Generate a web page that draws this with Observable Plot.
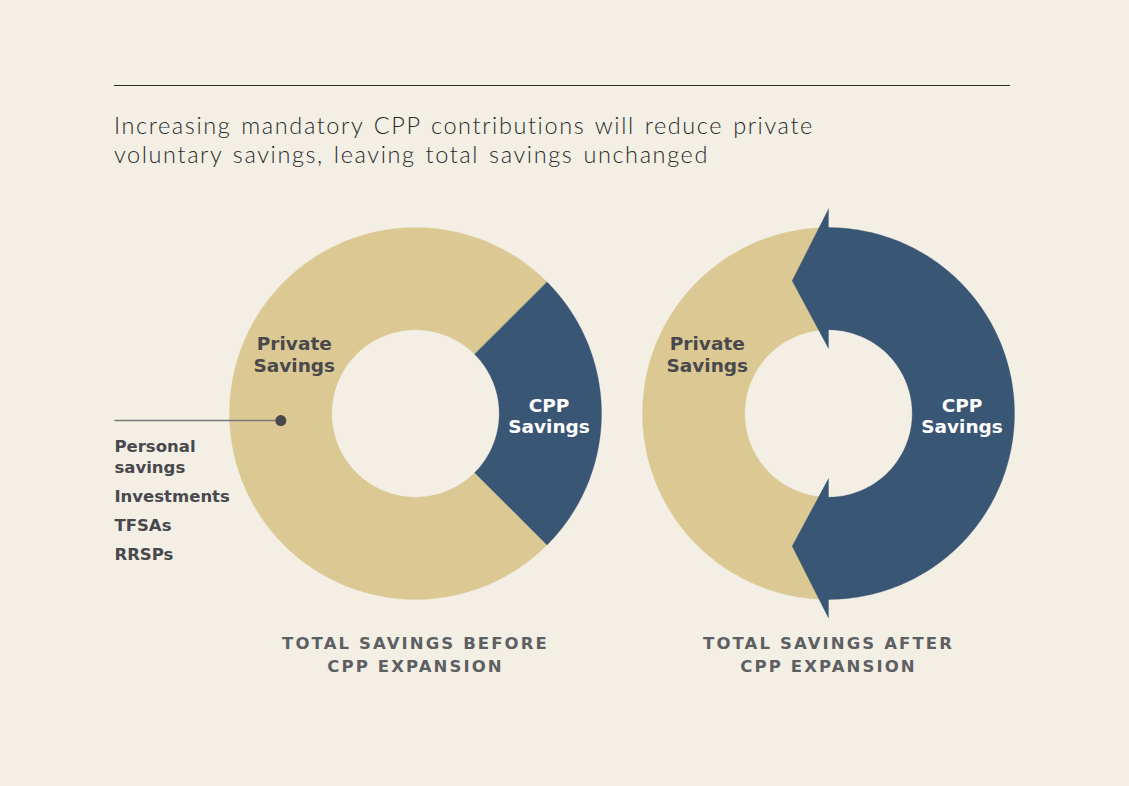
<!DOCTYPE html>
<html>
<head>
<meta charset="utf-8">
<script src="https://cdn.jsdelivr.net/npm/d3@7"></script>
<script src="https://cdn.jsdelivr.net/npm/@observablehq/plot@0.6"></script>
<style>
  html, body { margin: 0; padding: 0; background: #f3efe5; }
  #page { position: relative; width: 1129px; height: 786px; overflow: hidden; }
  #rule { position: absolute; left: 114px; top: 85px; width: 896px; border-top: 1.5px solid #2b2b2b; }
  #title { position: absolute; left: 114px; top: 111px; font-family: "Lato", sans-serif; font-weight: 300;
           font-size: 23.5px; line-height: 29px; color: #2b2b2b; z-index: 2;
           letter-spacing: 1.6px; word-spacing: 2px; white-space: nowrap; }
  #chart { position: absolute; left: 0; top: 0; }
</style>
</head>
<body>
<div id="page">
  <div id="rule"></div>
  <div id="title">Increasing mandatory CPP contributions will reduce private<br>voluntary savings, leaving total savings unchanged</div>
  <div id="chart"></div>
</div>
<script>
// ---- data ----
const categories = ["Private Savings", "CPP Savings"];
const panels = ["before", "after"];
const beforeShares = [0.75, 0.25];
const afterShares = [0.5, 0.5];
const panelCaptions = ["TOTAL SAVINGS BEFORE\nCPP EXPANSION", "TOTAL SAVINGS AFTER\nCPP EXPANSION"];
const sliceLabels = ["Private\nSavings", "CPP\nSavings"];
const privateComponents = [["Personal", "savings"], ["Investments"], ["TFSAs"], ["RRSPs"]];

// ---- styling / geometry constants ----
const colors = {"Private Savings": "#dbc892", "CPP Savings": "#3a5675"};
const FONT = "DejaVu Sans";
const R_OUT = 1, R_IN = 0.45, R_MID = 0.725;
const CPP_CENTER = 90;          // degrees clockwise from north
const PRIVATE_LABEL_DEG = 296;
const HEAD_OUT = 1.10, HEAD_IN = 0.35, TIP_R = 0.74, TIP_DEG = 15.3;
const W = 1129, H = 786, ML = 229, MR = 115;
const step = (W - ML - MR) / (2 - 0.1);
const unit = step * 0.9 / 2;      // px per radius unit
const CY = 413;                    // donut centre (px from top)
const pxY = py => (CY - py) / unit;
const pxX = (px) => (px - (ML + step * 0.45)) / unit;

const rad = d => d * Math.PI / 180;
const pol = (deg, r) => [r * Math.sin(rad(deg)), r * Math.cos(rad(deg))];

function arc(a0, a1, r0, r1) {
  const pts = [];
  const n = Math.max(2, Math.ceil(Math.abs(a1 - a0)));
  for (let i = 0; i <= n; i++) pts.push(pol(a0 + (a1 - a0) * i / n, r1));
  for (let i = n; i >= 0; i--) pts.push(pol(a0 + (a1 - a0) * i / n, r0));
  return pts;
}

// build slice polygons
const polys = [];
const shareSets = {before: beforeShares, after: afterShares};
for (const p of panels) {
  const shares = shareSets[p];
  const cppShare = shares[1];
  const c0 = CPP_CENTER - cppShare * 180, c1 = CPP_CENTER + cppShare * 180;
  arc(c1, c0 + 360, R_IN, R_OUT).forEach(([x, y]) => polys.push({panel: p, cat: categories[0], x, y}));
  let pts = arc(c0, c1, R_IN, R_OUT);
  if (p === "after") {
    const n = Math.ceil(c1 - c0);
    const outer = pts.slice(0, n + 1), inner = pts.slice(n + 1);
    pts = [
      ...outer,
      pol(c1, HEAD_OUT), pol(c1 + TIP_DEG, TIP_R), pol(c1, HEAD_IN),
      ...inner,
      pol(c0, HEAD_IN), pol(c0 - TIP_DEG, TIP_R), pol(c0, HEAD_OUT)
    ];
  }
  pts.forEach(([x, y]) => polys.push({panel: p, cat: categories[1], x, y}));
}

// labels
const labels = [];
for (const p of panels) {
  const [x0, y0] = pol(PRIVATE_LABEL_DEG, R_MID);
  const [x1, y1] = pol(CPP_CENTER, R_MID * 0.99);
  labels.push({panel: p, cat: categories[0], text: sliceLabels[0], x: x0, y: y0});
  labels.push({panel: p, cat: categories[1], text: sliceLabels[1], x: x1, y: y1});
}
const captions = panels.map((p, i) => ({panel: p, text: panelCaptions[i], x: 0, y: pxY(652.5)}));

// annotation list of private savings components
const LIST_X = pxX(114);
const listRows = [];
let base = 451;
privateComponents.forEach((item) => {
  item.forEach((line, j) => {
    listRows.push({panel: "before", text: line, x: LIST_X, y: pxY(base - 0.32 * 16.5)});
    base += (j < item.length - 1) ? 21 : 0;
  });
  base += 29;
});
const dotPos = pol(267, R_MID);
const leader = [{panel: "before", x1: LIST_X, y1: dotPos[1], x2: dotPos[0], y2: dotPos[1]}];
const dot = [{panel: "before", x: dotPos[0], y: dotPos[1]}];

const marks = categories.map(c => Plot.line(polys.filter(d => d.cat === c), {
  x: "x", y: "y", z: "panel", fx: "panel", fill: colors[c], stroke: colors[c], strokeWidth: 0.3, curve: "linear-closed"
}));
marks.push(
  Plot.link(leader, {x1: "x1", y1: "y1", x2: "x2", y2: "y2", fx: "panel", stroke: "#77777a", strokeWidth: 1.5}),
  Plot.dot(dot, {x: "x", y: "y", fx: "panel", r: 5.5, fill: "#47474c", stroke: "none"}),
  Plot.text(labels.filter(d => d.cat === categories[0]), {x: "x", y: "y", fx: "panel", text: "text", fill: "#48484d",
    fontFamily: FONT, fontWeight: 700, fontSize: 18.5, lineHeight: 1.19}),
  Plot.text(labels.filter(d => d.cat === categories[1]), {x: "x", y: "y", fx: "panel", text: "text", fill: "#ffffff",
    dy: 2, fontFamily: FONT, fontWeight: 700, fontSize: 18.5, lineHeight: 1.14}),
  Plot.text(listRows, {x: "x", y: "y", fx: "panel", text: "text", textAnchor: "start", fill: "#48484d",
    fontFamily: FONT, fontWeight: 700, fontSize: 16.5}),
  Plot.text(captions, {x: "x", y: "y", fx: "panel", text: "text", fill: "#5e5f62",
    fontFamily: FONT, fontWeight: 700, fontSize: 16.5, lineHeight: 1.42})
);

const chart = Plot.plot({
  width: W, height: H,
  marginLeft: ML, marginRight: MR, marginTop: 0, marginBottom: 0,
  style: {background: "transparent", overflow: "visible"},
  fx: {domain: panels, paddingInner: 0.1, paddingOuter: 0, axis: null, label: null},
  x: {domain: [-R_OUT, R_OUT], axis: null},
  y: {domain: [pxY(H), pxY(0)], axis: null},
  marks
});
// widen the tracking of the panel captions
d3.select(chart).selectAll("text")
  .filter(function () { return /TOTAL SAVINGS/.test(this.textContent); })
  .style("letter-spacing", "2.1px");
document.getElementById("chart").appendChild(chart);
</script>
</body>
</html>
